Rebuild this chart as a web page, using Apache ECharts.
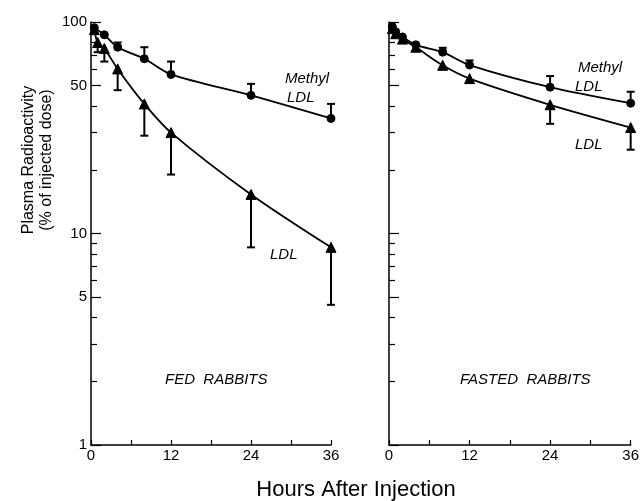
<!DOCTYPE html>
<html>
<head>
<meta charset="utf-8">
<script src="https://cdn.jsdelivr.net/npm/echarts@6/dist/echarts.min.js"></script>
<style>html,body{margin:0;padding:0;background:#fff}#c{width:642px;height:501px}</style>
</head>
<body>
<div id="c"></div>
<script>
// ---- data (hours after injection, % of injected dose) ----
const fedMethylHours = [0.5, 2, 4, 8, 12, 24, 36];
const fedMethylValues = [94, 87, 76, 67, 56.5, 45, 35];
const fedMethylErrHigh = [null, null, 80, 76, 65, 51, 41];

const fedLdlHours = [0.5, 1, 2, 4, 8, 12, 24, 36];
const fedLdlValues = [92, 80, 75, 60, 41, 30, 15.3, 8.6];
const fedLdlErrLow = [null, 72, 65, 47.6, 29, 19, 8.6, 4.6];

const fastedMethylHours = [0.5, 1, 2, 4, 8, 12, 24, 36];
const fastedMethylValues = [95, 90, 85, 78, 72, 62.6, 49.2, 41.3];
const fastedMethylErrHigh = [null, null, null, null, 75.5, 65.8, 55.5, 46.8];

const fastedLdlHours = [0.5, 1, 2, 4, 8, 12, 24, 36];
const fastedLdlValues = [93, 88, 83, 76, 62.4, 54, 40.6, 31.7];
const fastedLdlErrLow = [null, null, null, null, null, null, 33, 24.9];

const yMajorTicks = [1, 5, 10, 50, 100];
const yMinorTicks = [2, 3, 4, 6, 7, 8, 9, 20, 30, 40, 60, 70, 80, 90];
const xLabelValues = [0, 12, 24, 36];

const FONT = 'Liberation Sans';
const pairs = (xs, ys) => xs.map((x, i) => [x, ys[i]]);
const errTriples = (xs, ys, es) => xs.map((x, i) => [x, ys[i], es[i]]).filter(d => d[2] != null);

function errorRender(params, api) {
  const x = api.value(0), v = api.value(1), e = api.value(2);
  const p0 = api.coord([x, v]);
  const p1 = api.coord([x, e]);
  return {
    type: 'group',
    children: [
      { type: 'line', shape: { x1: p0[0], y1: p0[1], x2: p1[0], y2: p1[1] }, style: { stroke: '#000', lineWidth: 2 } },
      { type: 'line', shape: { x1: p1[0] - 4, y1: p1[1], x2: p1[0] + 4, y2: p1[1] }, style: { stroke: '#000', lineWidth: 2 } }
    ]
  };
}

const grids = [
  { left: 91, width: 240, top: 22, height: 423 },
  { left: 389, width: 242, top: 22, height: 423 }
];

function xAx(gi) {
  return {
    type: 'value', gridIndex: gi, min: 0, max: 36, interval: 6,
    axisLine: { lineStyle: { color: '#000', width: 1.5 } },
    axisTick: { inside: true, length: 5, lineStyle: { color: '#000', width: 1.2 } },
    axisLabel: { customValues: xLabelValues, color: '#000', fontFamily: FONT, fontSize: 15, margin: 3 },
    splitLine: { show: false }
  };
}
function yAxMajor(gi, labels) {
  return {
    type: 'log', logBase: 10, gridIndex: gi, min: 1, max: 100, position: 'left',
    axisLine: { show: true, lineStyle: { color: '#000', width: 1.5 } },
    axisTick: { inside: true, length: 10, customValues: yMajorTicks, lineStyle: { color: '#000', width: 1.2 } },
    axisLabel: { show: labels, customValues: yMajorTicks, color: '#000', fontFamily: FONT, fontSize: 15, margin: 4 },
    splitLine: { show: false }
  };
}
function yAxMinor(gi) {
  return {
    type: 'log', logBase: 10, gridIndex: gi, min: 1, max: 100, position: 'left',
    axisLine: { show: false },
    axisTick: { show: true, inside: true, length: 6, customValues: yMinorTicks, lineStyle: { color: '#000', width: 1.2 } },
    axisLabel: { show: false },
    splitLine: { show: false }
  };
}

function lineSeries(xi, yi, data, symbol, size) {
  return {
    type: 'line', xAxisIndex: xi, yAxisIndex: yi, data: data, smooth: 0.3,
    symbol: symbol, symbolSize: size, showSymbol: true,
    lineStyle: { color: '#000', width: 1.8 },
    itemStyle: { color: '#000', borderColor: '#000' },
    z: 3
  };
}
function errSeries(xi, yi, data) {
  return {
    type: 'custom', xAxisIndex: xi, yAxisIndex: yi, data: data,
    encode: { x: 0, y: 1 }, renderItem: errorRender, z: 2
  };
}

const textStyle = { fontFamily: FONT, fontStyle: 'italic', fontSize: 15, fill: '#000' };

const option = {
  animation: false,
  backgroundColor: '#fff',
  grid: grids,
  xAxis: [xAx(0), xAx(1)],
  yAxis: [yAxMajor(0, true), yAxMinor(0), yAxMajor(1, false), yAxMinor(1)],
  series: [
    lineSeries(0, 0, pairs(fedMethylHours, fedMethylValues), 'circle', 8),
    errSeries(0, 0, errTriples(fedMethylHours, fedMethylValues, fedMethylErrHigh)),
    lineSeries(0, 0, pairs(fedLdlHours, fedLdlValues), 'triangle', 10),
    errSeries(0, 0, errTriples(fedLdlHours, fedLdlValues, fedLdlErrLow)),
    lineSeries(1, 2, pairs(fastedMethylHours, fastedMethylValues), 'circle', 8),
    errSeries(1, 2, errTriples(fastedMethylHours, fastedMethylValues, fastedMethylErrHigh)),
    lineSeries(1, 2, pairs(fastedLdlHours, fastedLdlValues), 'triangle', 10),
    errSeries(1, 2, errTriples(fastedLdlHours, fastedLdlValues, fastedLdlErrLow))
  ],
  graphic: [
    { type: 'text', left: 285, top: 71, style: Object.assign({ text: 'Methyl' }, textStyle) },
    { type: 'text', left: 287, top: 90, style: Object.assign({ text: 'LDL' }, textStyle) },
    { type: 'text', left: 270, top: 247, style: Object.assign({ text: 'LDL' }, textStyle) },
    { type: 'text', left: 578, top: 60, style: Object.assign({ text: 'Methyl' }, textStyle) },
    { type: 'text', left: 575, top: 79, style: Object.assign({ text: 'LDL' }, textStyle) },
    { type: 'text', left: 575, top: 137, style: Object.assign({ text: 'LDL' }, textStyle) },
    { type: 'text', left: 165, top: 372, style: Object.assign({ text: 'FED  RABBITS' }, textStyle, { fontSize: 15 }) },
    { type: 'text', left: 460, top: 372, style: Object.assign({ text: 'FASTED  RABBITS' }, textStyle, { fontSize: 15 }) },
    { type: 'text', x: 29, y: 160, rotation: Math.PI / 2,
      style: { text: 'Plasma Radioactivity', fontFamily: FONT, fontSize: 16, fill: '#000', align: 'center', verticalAlign: 'middle' } },
    { type: 'text', x: 47, y: 160, rotation: Math.PI / 2,
      style: { text: '(% of injected dose)', fontFamily: FONT, fontSize: 16, fill: '#000', align: 'center', verticalAlign: 'middle' } },
    { type: 'text', x: 356, y: 490,
      style: { text: 'Hours After Injection', fontFamily: FONT, fontSize: 22, fill: '#000', align: 'center', verticalAlign: 'middle' } }
  ]
};

const chart = echarts.init(document.getElementById('c'), null, { renderer: 'canvas' });
chart.setOption(option);
</script>
</body>
</html>
